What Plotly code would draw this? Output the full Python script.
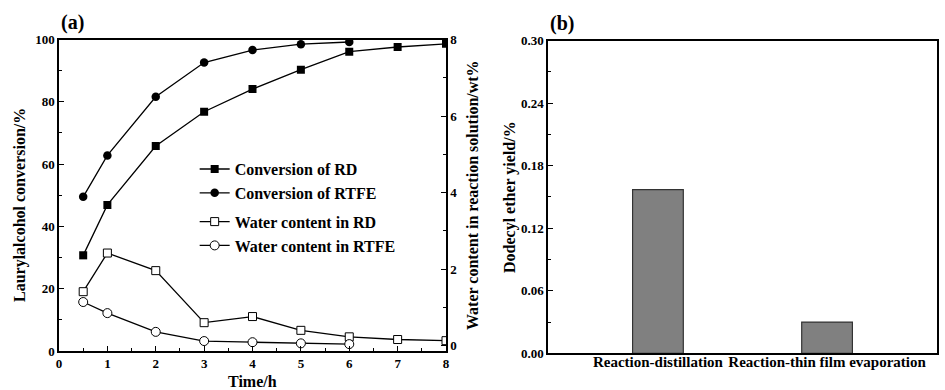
import plotly.graph_objects as go

# Panel (a): conversion and water content over time
time_h = [0.5, 1, 2, 3, 4, 5, 6, 7, 8]
conv_rd = [30.7, 46.9, 65.8, 76.8, 84.1, 90.3, 96.1, 97.6, 98.6]
time_rtfe = [0.5, 1, 2, 3, 4, 5, 6]
conv_rtfe = [49.5, 62.8, 81.6, 92.6, 96.6, 98.5, 99.2]
water_rd = [1.41, 2.42, 1.96, 0.60, 0.76, 0.40, 0.23, 0.16, 0.13]
water_rtfe = [1.14, 0.85, 0.36, 0.12, 0.09, 0.06, 0.04]

# Panel (b): by-product yield per process
processes = ["Reaction-distillation", "Reaction-thin film evaporation"]
ether_yield = [0.157, 0.030]

FONT = "Liberation Serif"
BLACK = "black"

fig = go.Figure()

line = dict(color=BLACK, width=1.3)
fig.add_trace(go.Scatter(x=time_h, y=conv_rd, mode="lines+markers", name="Conversion of RD",
                         line=line, marker=dict(symbol="square", size=8, color=BLACK),
                         legendgroup="conv", xaxis="x", yaxis="y"))
fig.add_trace(go.Scatter(x=time_rtfe, y=conv_rtfe, mode="lines+markers", name="Conversion of RTFE",
                         line=line, marker=dict(symbol="circle", size=8.5, color=BLACK),
                         legendgroup="conv", xaxis="x", yaxis="y"))
fig.add_trace(go.Scatter(x=time_h, y=water_rd, mode="lines+markers", name="Water content in RD",
                         line=line, marker=dict(symbol="square", size=8, color="white",
                                                line=dict(color=BLACK, width=1)),
                         legendgroup="water", xaxis="x", yaxis="y2"))
fig.add_trace(go.Scatter(x=time_rtfe, y=water_rtfe, mode="lines+markers", name="Water content in RTFE",
                         line=line, marker=dict(symbol="circle", size=9, color="white",
                                                line=dict(color=BLACK, width=1)),
                         legendgroup="water", xaxis="x", yaxis="y2"))

fig.add_trace(go.Bar(x=processes, y=ether_yield, width=0.3, showlegend=False,
                     marker=dict(color="#808080", line=dict(color="#333333", width=1.2)),
                     xaxis="x3", yaxis="y3"))

tickfont = dict(family=FONT, size=13, color=BLACK, weight="bold")
axis_common = dict(showgrid=False, zeroline=False, showline=True, linecolor=BLACK, linewidth=1.5,
                   ticks="inside", tickcolor=BLACK, tickwidth=1.3, ticklen=5,
                   tickfont=tickfont, automargin=False)

fig.update_layout(
    width=945, height=390,
    margin=dict(l=0, r=0, t=0, b=0),
    paper_bgcolor="white", plot_bgcolor="white",
    font=dict(family=FONT, color=BLACK),
    xaxis=dict(domain=[59/945, 446/945], range=[0, 8], dtick=1, mirror=True,
               minor=dict(ticks="inside", dtick=0.5, ticklen=3, tickcolor=BLACK),
               anchor="y", **axis_common),
    yaxis=dict(domain=[0.1, 0.8987], range=[0, 100], dtick=20,
               minor=dict(ticks="inside", dtick=10, ticklen=3, tickcolor=BLACK),
               anchor="x", **axis_common),
    yaxis2=dict(domain=[0.1, 0.8987], range=[-0.14, 8], dtick=2, side="right",
                overlaying="y", anchor="x",
                minor=dict(ticks="inside", dtick=1, ticklen=3, tickcolor=BLACK),
                **axis_common),
    xaxis3=dict(domain=[548/945, 937/945], range=[-0.65, 1.65], anchor="y3", mirror=True,
                showgrid=False, zeroline=False, showline=True, linecolor=BLACK, linewidth=1.5,
                ticks="", tickangle=0, ticklabelstandoff=-6,
                tickfont=dict(family=FONT, size=15, color=BLACK, weight="bold"),
                automargin=False),
    yaxis3=dict(domain=[0.094, 0.896], range=[0, 0.30], dtick=0.06, tickformat=".2f",
                anchor="x3", mirror=True,
                minor=dict(ticks="inside", dtick=0.03, ticklen=3, tickcolor=BLACK),
                **axis_common),
    legend=dict(x=0.206, y=0.61, xanchor="left", yanchor="top",
                bgcolor="rgba(0,0,0,0)",
                font=dict(family=FONT, size=16, color=BLACK, weight="bold"),
                traceorder="grouped", tracegroupgap=5, itemwidth=30),
    showlegend=True,
)

title_font = dict(family=FONT, size=16, color=BLACK, weight="bold")
annotations = [
    dict(text="(a)", x=59/945, y=1 - 22/390, xanchor="left", yanchor="middle",
         font=dict(family=FONT, size=20, color=BLACK, weight="bold")),
    dict(text="(b)", x=548/945, y=1 - 23/390, xanchor="left", yanchor="middle",
         font=dict(family=FONT, size=20, color=BLACK, weight="bold")),
    dict(text="Time/h", x=252/945, y=1 - 381/390, xanchor="center", yanchor="middle",
         font=title_font),
    dict(text="Laurylalcohol conversion/%", x=20/945, y=1 - 205/390, textangle=-90,
         xanchor="center", yanchor="middle", font=title_font),
    dict(text="Water content in reaction solution/wt%", x=472/945, y=1 - 195/390, textangle=-90,
         xanchor="center", yanchor="middle", font=title_font),
    dict(text="Dodecyl ether yield/%", x=510/945, y=1 - 197/390, textangle=-90,
         xanchor="center", yanchor="middle", font=title_font),
]
for a in annotations:
    a.update(xref="paper", yref="paper", showarrow=False)
fig.update_layout(annotations=annotations)

fig.write_html("out.html")
